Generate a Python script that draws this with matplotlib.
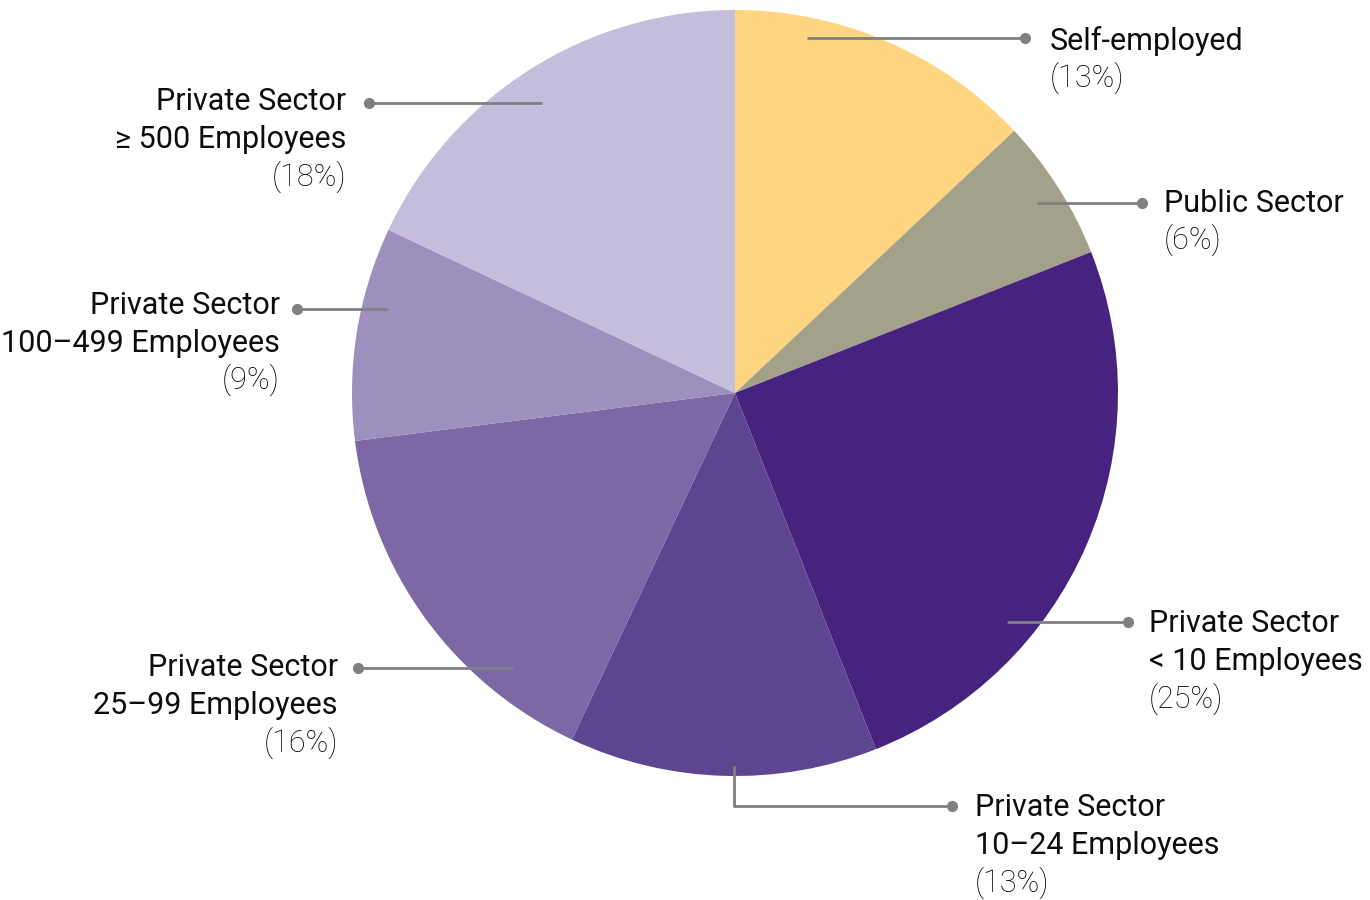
import matplotlib.pyplot as plt

# Employment share by sector, clockwise from 12 o'clock
sectors = ['Self-employed', 'Public Sector', 'Private Sector\n< 10 Employees',
           'Private Sector\n10–24 Employees', 'Private Sector\n25–99 Employees',
           'Private Sector\n100–499 Employees', 'Private Sector\n≥ 500 Employees']
shares = [13, 6, 25, 13, 16, 9, 18]
colors = ['#FFD580', '#A3A189', '#45237E', '#5C468F', '#7B68A4', '#9D8FBE', '#C4BDDC']

plt.rcParams['font.family'] = ['Roboto', 'DejaVu Sans']

fig = plt.figure(figsize=(13.7, 9), dpi=100)
ax = fig.add_axes([0, 0, 1, 1])

# inverted y axis flips the direction, so counterclock=True reads clockwise here
ax.pie(shares, colors=colors, startangle=-90, counterclock=True,
       center=(735, 393), radius=383, frame=True,
       wedgeprops=dict(linewidth=0))
ax.set_xlim(0, 1370)
ax.set_ylim(900, 0)
ax.set_aspect('equal')
ax.axis('off')

grey = '#808083'
# leader lines: (path x, path y), label anchor x, first line y, alignment
leaders = [
    ([807, 1025], [38, 38], 1050, 41, 'left'),
    ([1037, 1142], [203, 203], 1164, 203, 'left'),
    ([1007, 1128], [622, 622], 1149, 624, 'left'),
    ([734, 734, 952], [766, 806, 806], 975, 808, 'left'),
    ([513, 358], [668, 668], 338, 668, 'right'),
    ([387, 297], [309, 309], 280, 305, 'right'),
    ([542, 369], [103, 103], 346, 102, 'right'),
]

for name, pct, (lx, ly, tx, ty, ha) in zip(sectors, shares, leaders):
    ax.plot(lx, ly, color=grey, lw=2, solid_capstyle='butt')
    ax.plot(lx[-1], ly[-1], 'o', color=grey, ms=7)
    lines = name.split('\n')
    for i, line in enumerate(lines):
        ax.text(tx, ty + i * 38, line, ha=ha, va='center', fontsize=22,
                color='#0d0d0d')
    ax.text(tx, ty + len(lines) * 38 - 1, f'({pct}%)', ha=ha, va='center',
            fontsize=22, fontweight='light', color='#000000')

fig.savefig('out.png', dpi=100)
